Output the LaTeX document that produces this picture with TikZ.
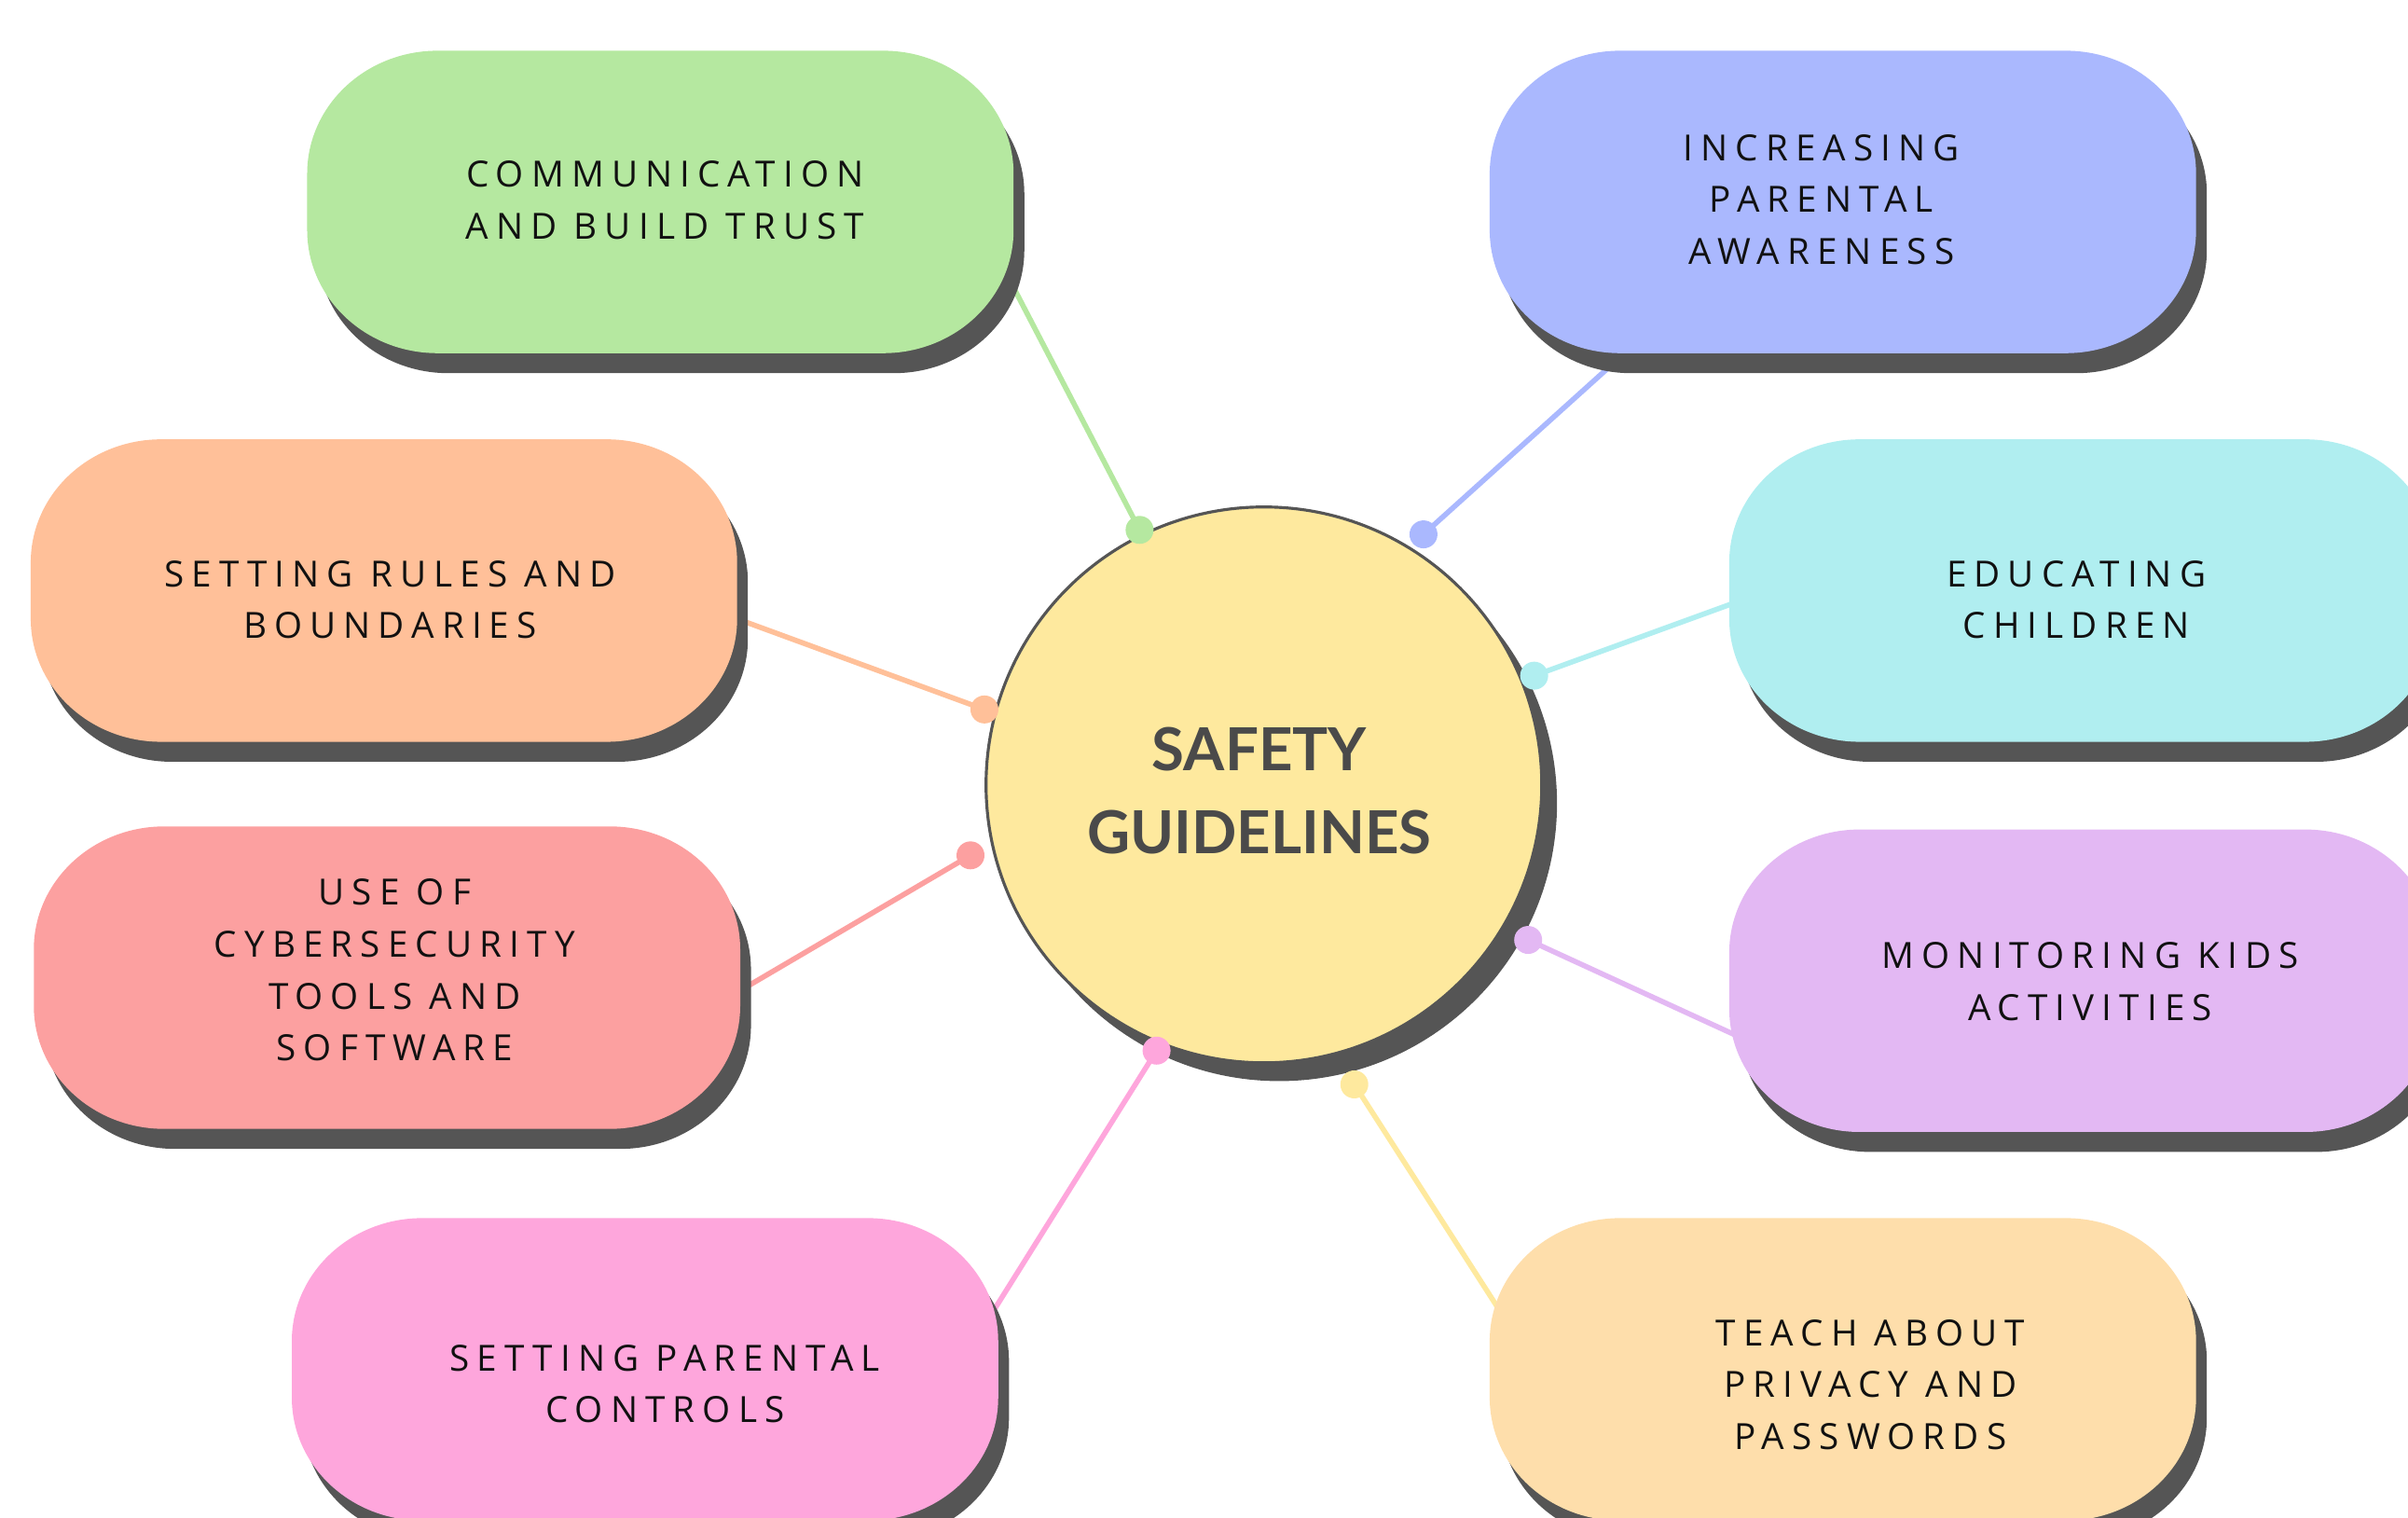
\documentclass[tikz,border=0pt]{standalone}
\usepackage{fontspec}
\setmainfont{Open Sans}
\newfontfamily\platefont[LetterSpace=21]{Open Sans}
\newfontfamily\hubfont{Lato}
\usetikzlibrary{calc}

\pgfdeclarelayer{links}
\pgfdeclarelayer{plates}
\pgfdeclarelayer{dots}
\pgfsetlayers{links,plates,main,dots}

\definecolor{shadowgrey}{HTML}{555555}
\definecolor{ink}{HTML}{111111}
\definecolor{hubink}{HTML}{4A4A4A}
\definecolor{hubfill}{HTML}{FEE99E}
\definecolor{cgreen}{HTML}{B5E8A0}
\definecolor{cblue}{HTML}{AAB8FE}
\definecolor{corange}{HTML}{FFC099}
\definecolor{ccyan}{HTML}{B0EEF0}
\definecolor{cred}{HTML}{FCA0A0}
\definecolor{cpurple}{HTML}{E3B8F3}
\definecolor{cpink}{HTML}{FEA6DC}
\definecolor{cpeach}{HTML}{FEDEAB}

% corner radii of the rounded plates
\newcommand\cornx{1.40cm}
\newcommand\corny{1.32cm}
\newcommand\platepath[1]{([xshift=\cornx]#1.north west) -- ([xshift=-\cornx]#1.north east)
  arc[start angle=90,end angle=0,x radius=\cornx,y radius=\corny]
  -- ([yshift=\corny]#1.south east)
  arc[start angle=0,end angle=-90,x radius=\cornx,y radius=\corny]
  -- ([xshift=\cornx]#1.south west)
  arc[start angle=270,end angle=180,x radius=\cornx,y radius=\corny]
  -- ([yshift=-\corny]#1.north west)
  arc[start angle=180,end angle=90,x radius=\cornx,y radius=\corny] -- cycle}
\newcommand\plate[2]{%
  \begin{pgfonlayer}{plates}
    \fill[shadowgrey, transform canvas={shift={(7,-13)}}] \platepath{#1};
    \fill[#2] \platepath{#1};
  \end{pgfonlayer}}

\tikzset{
  platebox/.style={rectangle, minimum width=7.58cm, minimum height=3.245cm, inner sep=0pt, outer sep=0pt},
  platetext/.style={font=\platefont\fontsize{11}{15.9}\selectfont, text=ink, align=center, inner sep=0pt},
  link/.style={line width=1.6pt},
  dot/.style={radius=0.15cm}
}

\begin{document}
\begin{tikzpicture}[x=0.016473cm, y=0.016473cm]
\useasboundingbox (0,0) rectangle (1568,988);

% plates (boxes) and their texts
\node[platebox] (p1) at (430,856.5) {};
\node[platebox] (p2) at (1200,856.5) {};
\node[platebox] (p3) at (250,603.5) {};
\node[platebox] (p4) at (1356,603.5) {};
\node[platebox] (p5) at (252,351.5) {};
\node[platebox] (p6) at (1356,349.5) {};
\node[platebox] (p7) at (420,96.5) {};
\node[platebox] (p8) at (1200,96.5) {};

\plate{p1}{cgreen}
\plate{p2}{cblue}
\plate{p3}{corange}
\plate{p4}{ccyan}
\plate{p5}{cred}
\plate{p6}{cpurple}
\plate{p7}{cpink}
\plate{p8}{cpeach}

\node[platetext] (t1) at (433,857.5) {COMMUNICATION\\AND BUILD TRUST};
\node[platetext] (t2) at (1186,858) {INCREASING\\PARENTAL\\AWARENESS};
\node[platetext] (t3) at (254,597.5) {SETTING RULES AND\\BOUNDARIES};
\node[platetext] (t4) at (1352,597.5) {EDUCATING\\CHILDREN};
\node[platetext] (t5) at (257,356.5) {USE OF\\CYBERSECURITY\\TOOLS AND\\SOFTWARE};
\node[platetext] (t6) at (1361,349) {MONITORING KIDS\\ACTIVITIES};
\node[platetext] (t7) at (433,87) {SETTING PARENTAL\\CONTROLS};
\node[platetext] (t8) at (1218,86.5) {TEACH ABOUT\\PRIVACY AND\\PASSWORDS};

% central hub
\node[circle, fill=hubfill, draw=shadowgrey, line width=0.9pt, minimum size=5.963cm, inner sep=0pt] (hub) at (823,477) {};
\node[font=\hubfont\bfseries\fontsize{18.1}{25.3}\selectfont, text=hubink, align=center, inner sep=0pt]
  (title) at (820,473) {SAFETY\\GUIDELINES};
\begin{pgfonlayer}{plates}
  \fill[shadowgrey] ([shift={(10,-12)}]hub.center) circle[radius=2.98cm];
\end{pgfonlayer}

% attachment points on the hub
\coordinate (d1) at ($(hub.center)+(116:184.7)$);
\coordinate (d2) at ($(hub.center)+(57.5:193.4)$);
\coordinate (d3) at ($(hub.center)+(164.9:188.5)$);
\coordinate (d4) at ($(hub.center)+(22:189.8)$);
\coordinate (d5) at ($(hub.center)+(193.5:196.5)$);
\coordinate (d6) at ($(hub.center)+(-30.4:199.5)$);
\coordinate (d7) at ($(hub.center)+(-112:186.6)$);
\coordinate (d8) at ($(hub.center)+(-73.2:203.7)$);

% connectors
\begin{pgfonlayer}{links}
  \draw[link, cgreen]  ([shift={(220,-36.5)}]p1.center) -- (d1);
  \draw[link, cblue]   ([shift={(-140,-96.5)}]p2.center) -- (d2);
  \draw[link, corange] ([shift={(222,-15.5)}]p3.center) -- (d3);
  \draw[link, ccyan]   ([shift={(-217,-4.5)}]p4.center) -- (d4);
  \draw[link, cred]    ([shift={(223,-12.5)}]p5.center) -- (d5);
  \draw[link, cpurple] ([shift={(-217,-39.5)}]p6.center) -- (d6);
  \draw[link, cpink]   ([shift={(214,17.5)}]p7.center) -- (d7);
  \draw[link, hubfill] ([shift={(-214,23.5)}]p8.center) -- (d8);
\end{pgfonlayer}

\begin{pgfonlayer}{dots}
  \fill[cgreen]  (d1) circle[dot];
  \fill[cblue]   (d2) circle[dot];
  \fill[corange] (d3) circle[dot];
  \fill[ccyan]   (d4) circle[dot];
  \fill[cred]    (d5) circle[dot];
  \fill[cpurple] (d6) circle[dot];
  \fill[cpink]   (d7) circle[dot];
  \fill[hubfill] (d8) circle[dot];
\end{pgfonlayer}
\end{tikzpicture}
\end{document}
